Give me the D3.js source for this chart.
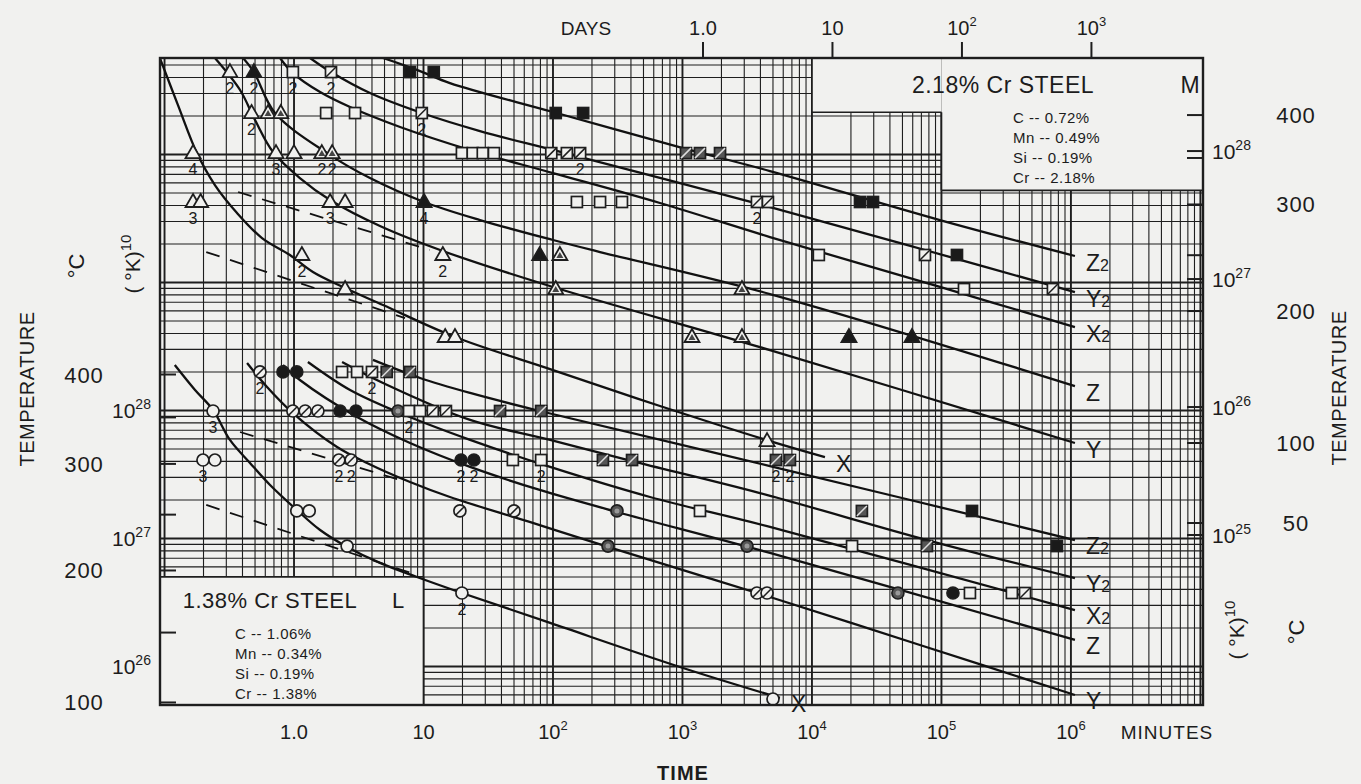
<!DOCTYPE html>
<html>
<head>
<meta charset="utf-8">
<script src="https://cdn.jsdelivr.net/npm/d3@7"></script>
<style>
body { margin: 0; background: #f1f1ef; }
svg text { font-family: "Liberation Sans", Arial, sans-serif; fill: #1c1c1c; }
</style>
</head>
<body>
<svg id="chart" width="1361" height="784"></svg>
<script>
// curves: [minutes, exponent of (°K)^10]
// steel M (upper group, right axis)
var curveM_X  = [[0.092,28.727],[0.127,28.359],[0.178,27.984],[0.245,27.734],[0.363,27.516],[0.566,27.320],[0.93,27.188],[1.40,27.055],[2.48,26.930],[4.87,26.797],[17.5,26.547],[100,26.289],[670,26.008],[4740,25.734],[12600,25.609]];
var curveM_Y  = [[0.245,28.727],[0.383,28.477],[0.50,28.242],[0.689,27.992],[1.11,27.789],[1.90,27.617],[4.61,27.414],[14.1,27.219],[100,26.938],[4740,26.445],[1074000,25.719]];
var curveM_Z  = [[0.404,28.727],[0.49,28.617],[0.713,28.297],[1.80,27.984],[3.86,27.789],[10.1,27.602],[27.3,27.461],[100,27.305],[231,27.211],[4740,26.883],[1074000,26.164]];
var curveM_X2 = [[0.78,28.727],[0.98,28.609],[1.59,28.461],[2.71,28.344],[6.59,28.188],[22.9,28.008],[100,27.828],[670,27.594],[4740,27.328],[97300,26.938],[1074000,26.625]];
var curveM_Y2 = [[1.33,28.727],[1.93,28.617],[3.86,28.453],[9.7,28.297],[27.3,28.156],[124,27.984],[4185,27.578],[74600,27.227],[1074000,26.898]];
var curveM_Z2 = [[4.87,28.727],[9.4,28.625],[16.0,28.531],[100,28.305],[1010,28.023],[4740,27.844],[97300,27.461],[1074000,27.180]];
// steel L (lower group, left axis)
var curveL_X  = [[0.12,28.355],[0.172,28.160],[0.237,28.004],[0.32,27.770],[0.457,27.590],[0.653,27.418],[1.05,27.223],[1.59,27.066],[2.57,26.934],[4.61,26.809],[8.9,26.699],[19.8,26.574],[95,26.340],[1010,25.988],[5660,25.754]];
var curveL_Y  = [[0.434,28.371],[0.619,28.184],[0.98,27.980],[2.15,27.715],[3.66,27.590],[7.87,27.441],[16.0,27.324],[66,27.129],[266,26.934],[4740,26.543],[68200,26.168],[1074000,25.777]];
var curveL_Z  = [[0.822,28.355],[1.11,28.238],[3.07,27.949],[7.87,27.746],[22.9,27.559],[79,27.379],[312,27.207],[4740,26.887],[1074000,26.207]];
var curveL_X2 = [[1.28,28.379],[2.71,28.160],[6.59,27.980],[22.9,27.770],[95,27.559],[561,27.324],[4740,27.090],[1074000,26.441]];
var curveL_Y2 = [[2.35,28.379],[4.87,28.215],[22.9,27.926],[95,27.770],[408,27.605],[3965,27.355],[77300,26.988],[1074000,26.691]];
var curveL_Z2 = [[4.07,28.395],[9.4,28.254],[22.9,28.137],[79,27.996],[4740,27.566],[1074000,26.988]];

// dashed guide lines
var dashM = [[[0.37,27.680],[11.2,27.227]], [[0.21,27.211],[7.2,26.695]]];
var dashL = [[[0.383,27.832],[6.59,27.457]], [[0.21,27.262],[8.9,26.715]]];

// markers: [minutes, exponent, type, note]
var markersM = [
  [0.32,28.617,'triO','2'],[0.49,28.617,'triF','2'],[0.98,28.617,'sqO','2'],[1.93,28.617,'sqH','2'],[7.87,28.617,'sqF',''],[12.0,28.617,'sqF',''],
  [0.47,28.297,'triO','2'],[0.63,28.297,'triH',''],[0.79,28.297,'triH',''],[1.77,28.297,'sqO',''],[2.96,28.297,'sqO',''],[9.7,28.297,'sqH','2'],[105,28.297,'sqF',''],[171,28.297,'sqF',''],
  [0.166,27.984,'triO','4'],[0.726,27.984,'triO','3'],[1.0,27.984,'triO',''],[1.64,27.984,'triH','2'],[1.97,27.984,'triH','2'],[19.8,27.984,'sqO',''],[24,27.984,'sqO',''],[28.7,27.984,'sqO',''],[35,27.984,'sqO',''],[97,27.984,'sqH',''],[128,27.984,'sqH',''],[162,27.984,'sqH','2'],[1064,27.984,'sqX',''],[1365,27.984,'sqX',''],[1950,27.984,'sqX',''],
  [0.166,27.602,'triO','3'],[0.19,27.602,'triO',''],[1.90,27.602,'triO','3'],[2.48,27.602,'triO',''],[10.1,27.602,'triF','4'],[153,27.602,'sqO',''],[231,27.602,'sqO',''],[341,27.602,'sqO',''],[3760,27.602,'sqH','2'],[4570,27.602,'sqH',''],[23500,27.602,'sqF',''],[29600,27.602,'sqF',''],
  [1.15,27.188,'triO','2'],[14.1,27.188,'triO','2'],[79,27.188,'triF',''],[113,27.188,'triH',''],[11300,27.188,'sqO',''],[74600,27.188,'sqH',''],[131800,27.188,'sqF',''],
  [2.48,26.922,'triO',''],[105,26.922,'triH',''],[2880,26.922,'triH',''],[149300,26.922,'sqO',''],[726000,26.922,'sqH',''],
  [14.7,26.547,'triO',''],[17.5,26.547,'triO',''],[1184,26.547,'triH',''],[2880,26.547,'triH',''],[19300,26.547,'triF',''],[59200,26.547,'triF',''],
  [4500,25.734,'triO','']
];
var markersL = [
  [0.546,28.301,'cirH','2'],[0.822,28.301,'cirF',''],[1.05,28.301,'cirF',''],[2.35,28.301,'sqO',''],[3.07,28.301,'sqO',''],[4.0,28.301,'sqH','2'],[5.2,28.301,'sqX',''],[7.87,28.301,'sqX',''],
  [0.237,27.996,'cirO','3'],[0.98,27.996,'cirH',''],[1.22,27.996,'cirH',''],[1.53,27.996,'cirH',''],[2.27,27.996,'cirF',''],[3.01,27.996,'cirF',''],[6.35,27.996,'cirX',''],[7.73,27.996,'sqO','2'],[9.4,27.996,'sqO',''],[11.8,27.996,'sqH',''],[14.9,27.996,'sqH',''],[39,27.996,'sqX',''],[81,27.996,'sqX',''],
  [0.198,27.613,'cirO','3'],[0.245,27.613,'cirO',''],[2.22,27.613,'cirH','2'],[2.76,27.613,'cirH','2'],[19.5,27.613,'cirF','2'],[24.5,27.613,'cirF','2'],[49,27.613,'sqO',''],[81,27.613,'sqO','2'],[243,27.613,'sqX',''],[408,27.613,'sqX',''],[5270,27.613,'sqX','2'],[6760,27.613,'sqX','2'],
  [1.05,27.215,'cirO',''],[1.31,27.215,'cirO',''],[19.1,27.215,'cirH',''],[50,27.215,'cirH',''],[312,27.215,'cirX',''],[1365,27.215,'sqO',''],[24300,27.215,'sqX',''],[172200,27.215,'sqF',''],
  [2.57,26.941,'cirO',''],[266,26.941,'cirX',''],[3150,26.941,'cirX',''],[20400,26.941,'sqO',''],[77300,26.941,'sqX',''],[780000,26.941,'sqF',''],
  [19.8,26.574,'cirO','2'],[3760,26.574,'cirH',''],[4500,26.574,'cirH',''],[46100,26.574,'cirX',''],[122700,26.574,'cirF',''],[166000,26.574,'sqO',''],[350000,26.574,'sqO',''],[442000,26.574,'sqH',''],
  [5000,25.746,'cirO','']
];

// axis labels
var minuteTicks = [1, 10, 100, 1e3, 1e4, 1e5, 1e6];
var minuteLabels = [['1.0',''],['10',''],['10','2'],['10','3'],['10','4'],['10','5'],['10','6']];
var dayTicks = [1, 10, 100, 1000];
var dayLabels = [['1.0',''],['10',''],['10','2'],['10','3']];
var tempLeft = [400, 300, 200, 100];
var tempRight = [400, 300, 200, 100, 50];
var powLeft = [28, 27, 26];
var powRight = [28, 27, 26, 25];
var steelL = ['C -- 1.06%', 'Mn -- 0.34%', 'Si -- 0.19%', 'Cr -- 1.38%'];
var steelM = ['C -- 0.72%', 'Mn -- 0.49%', 'Si -- 0.19%', 'Cr -- 2.18%'];

var svg = d3.select('#chart');
var W = 1361, H = 784;
var pL = 160, pR = 1203, pT = 58, pB = 705;
var ink = '#1e1e1e';
var paper = '#f1f1ef';

var xs = d3.scaleLog().domain([Math.pow(10, -1.035), Math.pow(10, 7.02)]).range([pL, pR]);
var yL = d3.scaleLinear().domain([25.699, 30.754]).range([pB, pT]);
var yM = d3.scaleLinear().domain([23.672, 28.727]).range([pB, pT]);

function kelvinExp(c){ return 10 * Math.log10(c + 273.15); }

svg.append('rect').attr('width', W).attr('height', H).attr('fill', paper);

// log grid
var grid = svg.append('g');
var vt = [];
for (var k = -2; k <= 7; k++) {
    for (var m = 1; m <= 9; m++) {
        var t = m * Math.pow(10, k);
        if (t > xs.domain()[0] && t < xs.domain()[1]) vt.push({v: t, major: m == 1});
    }
}
grid.selectAll('.vl').data(vt).enter().append('line')
    .attr('x1', function(d){ return xs(d.v); }).attr('x2', function(d){ return xs(d.v); })
    .attr('y1', pT).attr('y2', pB)
    .attr('stroke', ink).attr('stroke-width', function(d){ return d.major ? 1.9 : 1.1; });
var ht = [];
for (var dd = 25; dd <= 30; dd++) {
    for (var m2 = 1; m2 <= 9; m2++) {
        var e = dd + Math.log10(m2);
        if (e > yL.domain()[0] && e < yL.domain()[1]) ht.push({v: e, major: m2 == 1});
    }
}
grid.selectAll('.hl').data(ht).enter().append('line')
    .attr('x1', pL).attr('x2', pR)
    .attr('y1', function(d){ return yL(d.v); }).attr('y2', function(d){ return yL(d.v); })
    .attr('stroke', ink).attr('stroke-width', function(d){ return d.major ? 1.9 : 1.1; });

// blank legend areas of the paper, with their edges
var boxA = [xs(1e4), xs(1e5), yL(30.33)];
var boxB = [xs(1e5), pR, yL(29.72)];
var boxC = [pL, xs(10), yL(26.70)];
svg.append('rect').attr('x', boxA[0]).attr('y', pT).attr('width', boxA[1] - boxA[0]).attr('height', boxA[2] - pT).attr('fill', paper);
svg.append('rect').attr('x', boxB[0]).attr('y', pT).attr('width', boxB[1] - boxB[0]).attr('height', boxB[2] - pT).attr('fill', paper);
svg.append('rect').attr('x', boxC[0]).attr('y', boxC[2]).attr('width', boxC[1] - boxC[0]).attr('height', pB - boxC[2]).attr('fill', paper);
var edges = [
    [boxA[0], pT, boxA[0], boxA[2]], [boxA[0], boxA[2], boxA[1], boxA[2]],
    [boxB[0], boxA[2], boxB[0], boxB[2]], [boxB[0], boxB[2], boxB[1], boxB[2]],
    [boxC[0], boxC[2], boxC[1], boxC[2]], [boxC[1], boxC[2], boxC[1], pB]
];
svg.selectAll('.edge').data(edges).enter().append('line')
    .attr('x1', function(d){ return d[0]; }).attr('y1', function(d){ return d[1]; })
    .attr('x2', function(d){ return d[2]; }).attr('y2', function(d){ return d[3]; })
    .attr('stroke', ink).attr('stroke-width', 1.7);

// curves
svg.append('clipPath').attr('id', 'clip').append('rect')
    .attr('x', pL).attr('y', pT).attr('width', pR - pL).attr('height', pB - pT);
var plot = svg.append('g').attr('clip-path', 'url(#clip)');

var lineM = d3.line().x(function(d){ return xs(d[0]); }).y(function(d){ return yM(d[1]); }).curve(d3.curveCatmullRom.alpha(0.5));
var lineL = d3.line().x(function(d){ return xs(d[0]); }).y(function(d){ return yL(d[1]); }).curve(d3.curveCatmullRom.alpha(0.5));

var curvesM = [['X', curveM_X], ['Y', curveM_Y], ['Z', curveM_Z], ['X2', curveM_X2], ['Y2', curveM_Y2], ['Z2', curveM_Z2]];
var curvesL = [['X', curveL_X], ['Y', curveL_Y], ['Z', curveL_Z], ['X2', curveL_X2], ['Y2', curveL_Y2], ['Z2', curveL_Z2]];

plot.selectAll('.cm').data(curvesM).enter().append('path')
    .attr('d', function(d){ return lineM(d[1]); })
    .attr('fill', 'none').attr('stroke', '#111').attr('stroke-width', 2.3);
plot.selectAll('.cl').data(curvesL).enter().append('path')
    .attr('d', function(d){ return lineL(d[1]); })
    .attr('fill', 'none').attr('stroke', '#111').attr('stroke-width', 2.3);
plot.selectAll('.dm').data(dashM).enter().append('path')
    .attr('d', lineM).attr('fill', 'none').attr('stroke', '#111').attr('stroke-width', 1.8).attr('stroke-dasharray', '14,11');
plot.selectAll('.dl').data(dashL).enter().append('path')
    .attr('d', lineL).attr('fill', 'none').attr('stroke', '#111').attr('stroke-width', 1.8).attr('stroke-dasharray', '14,11');

// curve names
function curveName(sel, list, yScale, dx, dy){
    list.forEach(function(c){
        var last = c[1][c[1].length - 1];
        var tx = sel.append('text')
            .attr('x', xs(last[0]) + dx).attr('y', yScale(last[1]) + dy)
            .attr('font-size', 23);
        tx.append('tspan').text(c[0].charAt(0));
        if (c[0].length > 1) tx.append('tspan').attr('font-size', 16).text(c[0].charAt(1));
    });
}
curveName(svg, curvesM, yM, 11, 15);
curveName(svg, curvesL, yL, 11, 14);

// markers
function drawMarkers(list, yScale){
    var g = svg.append('g');
    list.forEach(function(d){
        var cx = xs(d[0]), cy = yScale(d[1]), type = d[2];
        var mk = g.append('g').attr('transform', 'translate(' + cx + ',' + cy + ')');
        var fill, col;
        if (type.indexOf('tri') == 0) {
            fill = type.charAt(3);
            col = fill == 'F' ? '#1a1a1a' : paper;
            mk.append('path').attr('d', 'M0,-8L7.5,5L-7.5,5Z')
                .attr('fill', col).attr('stroke', ink).attr('stroke-width', 1.8);
            if (fill == 'H') mk.append('path').attr('d', 'M0,-3L3.5,3L-3.5,3Z').attr('fill', '#444');
        } else if (type.indexOf('sq') == 0) {
            fill = type.charAt(2);
            col = fill == 'F' ? '#1a1a1a' : (fill == 'X' ? '#555' : paper);
            mk.append('rect').attr('x', -5.5).attr('y', -5.5).attr('width', 11).attr('height', 11)
                .attr('fill', col).attr('stroke', ink).attr('stroke-width', 1.7);
            if (fill == 'H' || fill == 'X') mk.append('line').attr('x1', -5).attr('y1', 5).attr('x2', 5).attr('y2', -5)
                .attr('stroke', fill == 'X' ? '#ddd' : ink).attr('stroke-width', 1.5);
        } else {
            fill = type.charAt(3);
            col = fill == 'F' ? '#1a1a1a' : (fill == 'X' ? '#555' : paper);
            mk.append('circle').attr('r', 6)
                .attr('fill', col).attr('stroke', ink).attr('stroke-width', 1.7);
            if (fill == 'H') mk.append('line').attr('x1', -4).attr('y1', 4).attr('x2', 4).attr('y2', -4)
                .attr('stroke', ink).attr('stroke-width', 1.6);
            if (fill == 'X') mk.append('circle').attr('r', 2.5).attr('fill', '#999');
        }
        if (d[3]) {
            g.append('text').attr('x', cx).attr('y', cy + 22).attr('text-anchor', 'middle')
                .attr('font-size', 16).text(d[3]);
        }
    });
}
drawMarkers(markersM, yM);
drawMarkers(markersL, yL);

// frame
svg.append('rect').attr('x', pL).attr('y', pT).attr('width', pR - pL).attr('height', pB - pT)
    .attr('fill', 'none').attr('stroke', ink).attr('stroke-width', 2.4);

// side ticks
tempLeft.concat([150, 250, 350]).forEach(function(c){
    svg.append('line').attr('x1', pL).attr('x2', pL + 16).attr('y1', yL(kelvinExp(c))).attr('y2', yL(kelvinExp(c)))
        .attr('stroke', ink).attr('stroke-width', 2);
});
tempRight.concat([250, 350]).forEach(function(c){
    svg.append('line').attr('x1', pR - 16).attr('x2', pR).attr('y1', yM(kelvinExp(c))).attr('y2', yM(kelvinExp(c)))
        .attr('stroke', ink).attr('stroke-width', 2);
});
powRight.forEach(function(p){
    svg.append('line').attr('x1', pR - 16).attr('x2', pR).attr('y1', yM(p)).attr('y2', yM(p))
        .attr('stroke', ink).attr('stroke-width', 2);
});

// power labels
function powLabel(x, y, p, anchor){
    var t = svg.append('text').attr('x', x).attr('y', y + 8).attr('font-size', 21).attr('text-anchor', anchor);
    t.append('tspan').text('10');
    t.append('tspan').attr('dy', -9).attr('font-size', 14).text(p);
}
powLeft.forEach(function(p){ powLabel(112, yL(p), p, 'start'); });
powRight.forEach(function(p){ powLabel(1212, yM(p), p, 'start'); });

// temperature labels
svg.selectAll('.tl').data(tempLeft).enter().append('text')
    .attr('x', 84).attr('y', function(d){ return yL(kelvinExp(d)) + 8; })
    .attr('text-anchor', 'middle').attr('font-size', 22).attr('letter-spacing', 1).text(function(d){ return d; });
svg.selectAll('.tr').data(tempRight).enter().append('text')
    .attr('x', 1296).attr('y', function(d){ return yM(kelvinExp(d)) + 8; })
    .attr('text-anchor', 'middle').attr('font-size', 22).attr('letter-spacing', 1).text(function(d){ return d; });

function vText(x, y, str, size){
    return svg.append('text').attr('transform', 'translate(' + x + ',' + y + ') rotate(-90)')
        .attr('text-anchor', 'middle').attr('font-size', size).text(str);
}
vText(34, 389, 'TEMPERATURE', 20).attr('letter-spacing', 0.5);
vText(1346, 388, 'TEMPERATURE', 20).attr('letter-spacing', 0.5);
vText(84, 266, '°C', 22);
vText(1304, 632, '°C', 22);
function kText(x, y){
    var t = svg.append('text').attr('transform', 'translate(' + x + ',' + y + ') rotate(-90)')
        .attr('text-anchor', 'middle').attr('font-size', 21);
    t.append('tspan').text('( °K)');
    t.append('tspan').attr('dy', -9).attr('font-size', 15).text('10');
}
kText(140, 264);
kText(1244, 630);

// bottom time axis
minuteTicks.forEach(function(v, i){
    var t = svg.append('text').attr('x', xs(v)).attr('y', 739).attr('text-anchor', 'middle').attr('font-size', 20);
    t.append('tspan').text(minuteLabels[i][0]);
    if (minuteLabels[i][1]) t.append('tspan').attr('dy', -9).attr('font-size', 13).text(minuteLabels[i][1]);
});
svg.append('text').attr('x', 1167).attr('y', 739).attr('text-anchor', 'middle').attr('font-size', 19).attr('letter-spacing', 1).text('MINUTES');
svg.append('text').attr('x', 683).attr('y', 780).attr('text-anchor', 'middle').attr('font-size', 20).attr('font-weight', 'bold').attr('letter-spacing', 1).text('TIME');

// top days axis
dayTicks.forEach(function(v, i){
    svg.append('line').attr('x1', xs(v * 1440)).attr('x2', xs(v * 1440)).attr('y1', pT - 16).attr('y2', pT)
        .attr('stroke', ink).attr('stroke-width', 2);
    var t = svg.append('text').attr('x', xs(v * 1440)).attr('y', 35).attr('text-anchor', 'middle').attr('font-size', 20);
    t.append('tspan').text(dayLabels[i][0]);
    if (dayLabels[i][1]) t.append('tspan').attr('dy', -9).attr('font-size', 13).text(dayLabels[i][1]);
});
svg.append('text').attr('x', 586).attr('y', 35).attr('text-anchor', 'middle').attr('font-size', 19).text('DAYS');

// steel legends
svg.append('text').attr('x', 1003).attr('y', 93).attr('text-anchor', 'middle').attr('font-size', 23).attr('letter-spacing', 0.5).text('2.18% Cr  STEEL');
svg.append('text').attr('x', 1190).attr('y', 93).attr('text-anchor', 'middle').attr('font-size', 23).text('M');
steelM.forEach(function(s, i){
    svg.append('text').attr('x', 1013).attr('y', 123 + i * 20).attr('font-size', 15).attr('letter-spacing', 0.5).text(s);
});
svg.append('text').attr('x', 270).attr('y', 608).attr('text-anchor', 'middle').attr('font-size', 22).attr('letter-spacing', 0.5).text('1.38% Cr  STEEL');
svg.append('text').attr('x', 398).attr('y', 608).attr('text-anchor', 'middle').attr('font-size', 22).text('L');
steelL.forEach(function(s, i){
    svg.append('text').attr('x', 235).attr('y', 639 + i * 20).attr('font-size', 15).attr('letter-spacing', 0.5).text(s);
});
</script>
</body>
</html>
